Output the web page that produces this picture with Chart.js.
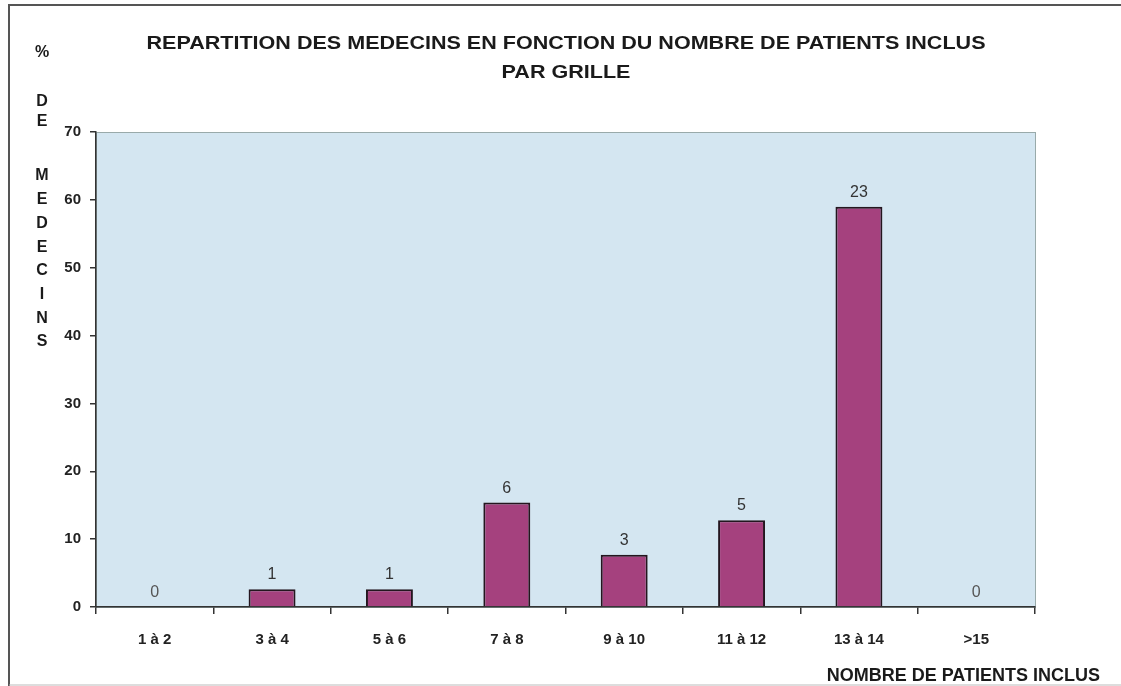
<!DOCTYPE html>
<html lang="fr">
<head>
    <meta charset="UTF-8" />
    <title>Répartition des médecins</title>
    <script src="https://cdn.jsdelivr.net/npm/chart.js"></script>
    <style>
        body { margin: 0; background: #fff; }
        canvas { display: block; }
    </style>
</head>
<body>
    <canvas id="chart" width="1121" height="686"></canvas>

    <script>
        // categories (nombre de patients inclus par grille)
        const categories = ['1 à 2', '3 à 4', '5 à 6', '7 à 8', '9 à 10', '11 à 12', '13 à 14', '>15'];
        // % de médecins (hauteur des barres)
        const percentValues = [0, 2.6, 2.6, 15.4, 7.7, 12.8, 59, 0];
        // nombre de médecins (étiquettes au-dessus des barres)
        const doctorCounts = [0, 1, 1, 6, 3, 5, 23, 0];
        const yTicks = [0, 10, 20, 30, 40, 50, 60, 70];

        const titleLines = ['REPARTITION DES MEDECINS EN FONCTION DU NOMBRE DE PATIENTS INCLUS', 'PAR GRILLE'];
        const yTitleLetters = ['M', 'E', 'D', 'E', 'C', 'I', 'N', 'S'];
        const FONT = 'Arial, "Liberation Sans", sans-serif';

        // texte étiré horizontalement (le titre scanné est plus large qu'Arial)
        function stretchText(ctx, text, x, y, stretch) {
            ctx.save();
            ctx.translate(x, y);
            ctx.scale(stretch, 1);
            ctx.fillText(text, 0, 0);
            ctx.restore();
        }

        const decor = {
            id: 'decor',
            beforeDraw(chart) {
                const ctx = chart.ctx;
                const a = chart.chartArea;
                ctx.save();
                ctx.fillStyle = '#fff';
                ctx.fillRect(0, 0, chart.width, chart.height);
                // cadre
                ctx.strokeStyle = '#555';
                ctx.lineWidth = 2;
                ctx.beginPath();
                ctx.moveTo(9, 686); ctx.lineTo(9, 5); ctx.lineTo(1121, 5);
                ctx.stroke();
                ctx.strokeStyle = '#bbb';
                ctx.lineWidth = 1;
                ctx.beginPath();
                ctx.moveTo(9, 685); ctx.lineTo(1121, 685);
                ctx.stroke();
                // fond de la zone de tracé
                ctx.fillStyle = '#d4e6f1';
                ctx.fillRect(a.left, a.top, a.right - a.left, a.bottom - a.top);
                ctx.strokeStyle = '#9aa';
                ctx.strokeRect(a.left + 0.5, a.top + 0.5, a.right - a.left, a.bottom - a.top);
                ctx.restore();
            },
            afterDraw(chart) {
                const ctx = chart.ctx;
                ctx.save();
                ctx.fillStyle = '#1a1a1a';
                ctx.textAlign = 'center';
                ctx.textBaseline = 'middle';
                ctx.font = 'bold 19px ' + FONT;
                const w = ctx.measureText(titleLines[0]).width;
                const stretch = 839 / w;
                stretchText(ctx, titleLines[0], 566, 44, stretch);
                stretchText(ctx, titleLines[1], 566, 73, stretch);

                ctx.font = 'bold 16px ' + FONT;
                ctx.fillText('%', 42, 53);
                ctx.fillText('D', 42, 102);
                ctx.fillText('E', 42, 122);
                yTitleLetters.forEach((l, i) => ctx.fillText(l, 42, 176 + i * 23.7));

                ctx.font = 'bold 18px ' + FONT;
                ctx.textAlign = 'right';
                ctx.fillText('NOMBRE DE PATIENTS INCLUS', 1100, 676);

                // étiquettes des barres
                const meta = chart.getDatasetMeta(0);
                ctx.font = '16px ' + FONT;
                ctx.textAlign = 'center';
                ctx.textBaseline = 'alphabetic';
                meta.data.forEach((bar, i) => {
                    ctx.fillStyle = doctorCounts[i] === 0 ? '#555' : '#333';
                    ctx.fillText(String(doctorCounts[i]), bar.x, bar.y - 10);
                });
                ctx.restore();
            }
        };

        new Chart(document.getElementById('chart'), {
            type: 'bar',
            data: {
                labels: categories,
                datasets: [{
                    data: percentValues,
                    backgroundColor: '#a5417e',
                    borderColor: '#24161f',
                    borderWidth: 2,
                    barPercentage: 0.4,
                    categoryPercentage: 1
                }]
            },
            options: {
                responsive: false,
                animation: false,
                layout: { padding: { top: 132, right: 86, left: 0, bottom: 0 } },
                plugins: { legend: { display: false }, tooltip: { enabled: false } },
                scales: {
                    x: {
                        afterFit(scale) { scale.height = 79; },
                        grid: { drawOnChartArea: false, drawTicks: true, tickLength: 7, color: '#333', lineWidth: 1.5 },
                        border: { display: true, color: '#333', width: 1.5 },
                        ticks: { color: '#222', font: { family: 'Arial', size: 15, weight: 'bold' }, padding: 17 }
                    },
                    y: {
                        min: 0,
                        max: 70,
                        afterFit(scale) { scale.width = 96; },
                        afterBuildTicks(scale) { scale.ticks = yTicks.map(v => ({ value: v })); },
                        grid: { drawOnChartArea: false, drawTicks: true, tickLength: 6, color: '#333', lineWidth: 1.5 },
                        border: { display: true, color: '#333', width: 1.5 },
                        ticks: { color: '#222', font: { family: 'Arial', size: 15, weight: 'bold' }, padding: 9 }
                    }
                }
            },
            plugins: [decor]
        });
    </script>
</body>
</html>
